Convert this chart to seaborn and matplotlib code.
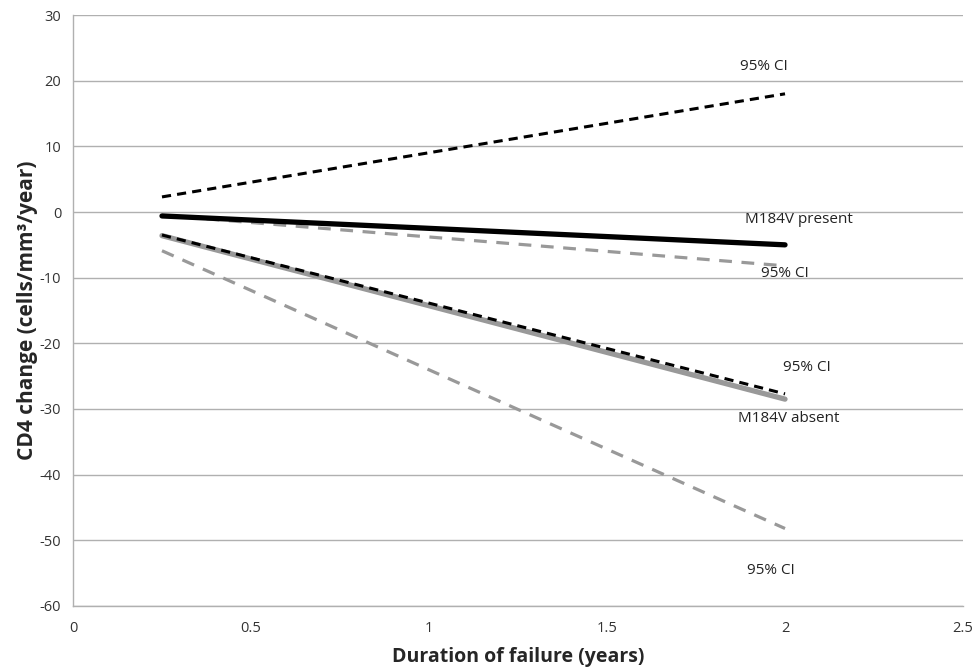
import pandas as pd
import matplotlib
matplotlib.use("Agg")
import matplotlib.pyplot as plt
import seaborn as sns

# Values (start and end of each line)
duration = [0.25, 2.0]
present = [-0.6, -5.0]
present_upper = [2.3, 18.0]
present_lower = [-0.5, -8.2]
absent = [-3.6, -28.5]
absent_upper = [-3.5, -27.7]
absent_lower = [-5.9, -48.2]

series_names = ["present_upper", "present", "present_lower",
                "absent", "absent_upper", "absent_lower"]
series_vals = [present_upper, present, present_lower,
               absent, absent_upper, absent_lower]

rows = []
for name, vals in zip(series_names, series_vals):
    for x, y in zip(duration, vals):
        rows.append({"Duration": x, "CD4": y, "series": name})
df = pd.DataFrame(rows)

sns.set_style("white")
plt.rcParams["font.family"] = ["Open Sans", "DejaVu Sans"]
plt.rcParams["axes.unicode_minus"] = False

fig = plt.figure(figsize=(9.77, 6.71), dpi=100)
ax = fig.add_axes([0.0747, 0.0969, 0.911, 0.8807])

styles = {
    "absent":        dict(color="#999999", lw=3.8, ls="-"),
    "absent_lower":  dict(color="#999999", lw=2.3, ls=(0, (4, 3))),
    "present_lower": dict(color="#999999", lw=2.3, ls=(0, (4, 3))),
    "absent_upper":  dict(color="black", lw=2.2, ls=(0, (3, 2))),
    "present_upper": dict(color="black", lw=2.2, ls=(0, (3, 2))),
    "present":       dict(color="black", lw=3.8, ls="-"),
}
for name in ["absent", "absent_lower", "present_lower",
             "absent_upper", "present_upper", "present"]:
    st = styles[name]
    sns.lineplot(data=df[df["series"] == name], x="Duration", y="CD4",
                 ax=ax, color=st["color"], linewidth=st["lw"],
                 linestyle=st["ls"], solid_capstyle="round", legend=False)

ax.set_xlim(0, 2.5)
ax.set_ylim(-60, 30)
ax.set_xticks([0, 0.5, 1, 1.5, 2, 2.5])
ax.set_xticklabels(["0", "0.5", "1", "1.5", "2", "2.5"])
ax.set_yticks(range(-60, 31, 10))
ax.yaxis.grid(True, color="#b0b0b0", linewidth=1)
ax.set_axisbelow(True)
for s in ["top", "right"]:
    ax.spines[s].set_visible(False)
for s in ["left", "bottom"]:
    ax.spines[s].set_color("#b0b0b0")
    ax.spines[s].set_linewidth(1)
ax.tick_params(axis="both", which="both", direction="out", length=5,
               color="#b0b0b0", labelsize=10.5, labelcolor="#333333")
ax.tick_params(axis="x", pad=6)

ax.set_xlabel("Duration of failure (years)", fontsize=14, fontweight="bold",
              labelpad=8)
ax.set_ylabel("CD4 change (cells/mm³/year)", fontsize=15, fontweight="bold")
ax.yaxis.set_label_coords(-0.039, 0.5)

lab = dict(fontsize=11, color="#222222", ha="center", va="center")
ax.text(1.94, 22.2, "95% CI", **lab)
ax.text(2.04, -1.1, "M184V present", **lab)
ax.text(2.0, -9.3, "95% CI", **lab)
ax.text(2.06, -23.7, "95% CI", **lab)
ax.text(2.01, -31.4, "M184V absent", **lab)
ax.text(1.96, -54.6, "95% CI", **lab)

fig.savefig("out.png", dpi=100)
